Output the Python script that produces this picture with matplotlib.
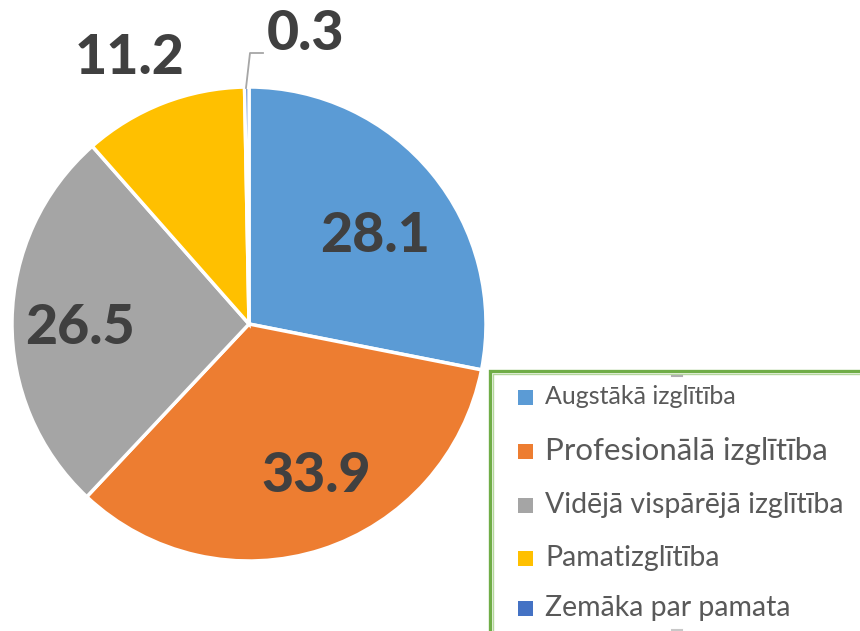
import matplotlib
matplotlib.use("Agg")
import matplotlib.pyplot as plt
from matplotlib.patches import Rectangle

categories = ["Augstākā izglītība", "Profesionālā izglītība",
              "Vidējā vispārējā izglītība", "Pamatizglītība", "Zemāka par pamata"]
values = [28.1, 33.9, 26.5, 11.2, 0.3]
value_labels = ["28.1", "33.9", "26.5", "11.2", "0.3"]
colors = ["#5B9BD5", "#ED7D31", "#A5A5A5", "#FFC000", "#4472C4"]

W, H = 860, 631
fig = plt.figure(figsize=(W / 100, H / 100), dpi=100)
ax = fig.add_axes([0, 0, 1, 1])

def Y(y):
    return H - y

cx, cy, R = 249, 324, 237
ax.pie(values, colors=colors, startangle=90, counterclock=False,
       center=(cx, Y(cy)), radius=R,
       wedgeprops=dict(edgecolor="white", linewidth=2.5))
ax.set_xlim(0, W)
ax.set_ylim(0, H)
ax.set_aspect("equal")
ax.axis("off")

# data labels (pixel positions of label centres)
label_pos = [(375, 231), (316, 472), (80, 324), (130, 54), (305, 30)]
for txt, (x, y) in zip(value_labels, label_pos):
    ax.text(x, Y(y), txt, ha="center", va="center_baseline", fontsize=40,
            fontweight=900, color="#404040", family="Lato")

# leader line for the tiny slice
ax.plot([246, 250, 263], [Y(88), Y(53), Y(53)], color="#A6A6A6", lw=1.3)

# legend box (selected-style double border)
ax.add_patch(Rectangle((490, Y(700)), 420, 700 - 371, facecolor="white",
                       edgecolor="#70AD47", linewidth=2.4, zorder=5, clip_on=False))
ax.add_patch(Rectangle((493, Y(700)), 420, 700 - 374, facecolor="none",
                       edgecolor="#B4D79C", linewidth=1.0, zorder=5, clip_on=False))
ax.plot([672, 682], [Y(375.5), Y(375.5)], color="#B0B0B0", lw=1.5, zorder=6)
ax.plot([672, 682], [Y(630), Y(630)], color="#C8C8C8", lw=1.5, zorder=6)

rows = [397, 451, 505, 558, 608]
sizes = [18, 22.5, 20.5, 20.5, 20.5]
for cat, col, y, fs in zip(categories, colors, rows, sizes):
    ax.add_patch(Rectangle((518, Y(y) - 7.5), 15, 15, facecolor=col,
                           edgecolor="none", zorder=6))
    ax.text(545, Y(y), cat, ha="left", va="center", fontsize=fs,
            color="#595959", family="Lato", zorder=7)

fig.savefig("out.png", dpi=100)
